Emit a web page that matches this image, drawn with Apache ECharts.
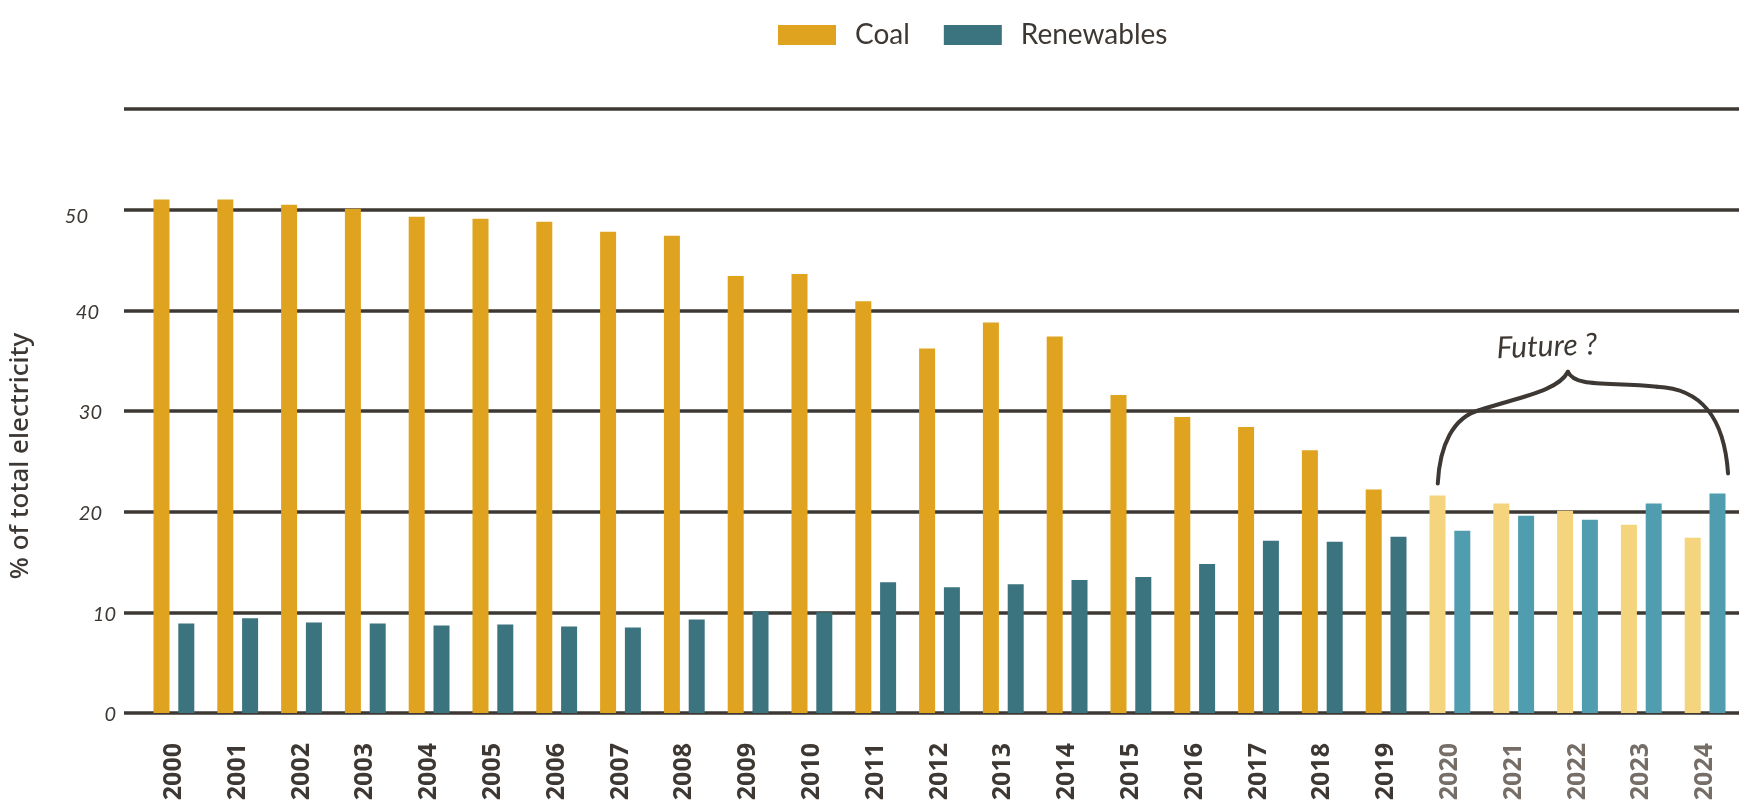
<!DOCTYPE html>
<html>
<head>
<meta charset="utf-8">
<script src="https://cdn.jsdelivr.net/npm/echarts@6/dist/echarts.min.js"></script>
<style>
html,body{margin:0;padding:0;background:#fff;}
#chart{width:1739px;height:807px;}
</style>
</head>
<body>
<div id="chart"></div>
<script>
const years = ['2000','2001','2002','2003','2004','2005','2006','2007','2008','2009','2010','2011','2012','2013','2014','2015','2016','2017','2018','2019','2020','2021','2022','2023','2024'];
const coal = [51.0, 51.0, 50.5, 50.1, 49.3, 49.1, 48.8, 47.8, 47.4, 43.4, 43.6, 40.9, 36.2, 38.8, 37.4, 31.6, 29.4, 28.4, 26.1, 22.2, 21.6, 20.8, 20.1, 18.7, 17.4];
const renewables = [8.9, 9.4, 9.0, 8.9, 8.7, 8.8, 8.6, 8.5, 9.3, 10.1, 10.0, 13.0, 12.5, 12.8, 13.2, 13.5, 14.8, 17.1, 17.0, 17.5, 18.1, 19.6, 19.2, 20.8, 21.8];
const yTicks = [0, 10, 20, 30, 40, 50, 60];
const futureYears = ['2020','2021','2022','2023','2024'];
const annotationText = 'Future ?';

const COL = {
  coal: '#e0a31f', coalFuture: '#f4d57e',
  ren: '#3b737e', renFuture: '#4f9daf',
  ink: '#3d3833', inkLight: '#766d67'
};

const isFuture = y => futureYears.indexOf(y) >= 0;

const chart = echarts.init(document.getElementById('chart'), null, {renderer: 'canvas'});

const yPad = {0: 0, 10: 0, 20: 14, 30: 14, 40: 17, 50: 28, 60: 0};
const yRich = {};
yTicks.forEach(v => {
  yRich['t' + v] = {
    fontFamily: 'Lato', fontStyle: 'italic', fontSize: 20, color: COL.ink,
    padding: [v === 50 ? 14 : 4, yPad[v], 0, 0]
  };
});

const option = {
  backgroundColor: '#ffffff',
  animation: false,
  legend: {
    data: ['Coal', 'Renewables'],
    top: 16,
    left: 773,
    itemWidth: 58,
    itemHeight: 20,
    itemGap: 34,
    icon: 'rect',
    textStyle: {
      fontFamily: 'Lato', fontSize: 28, color: COL.ink,
      padding: [0, 0, 0, 14]
    }
  },
  grid: [
    {left: 114, right: 0, top: 109, bottom: 94},
    {left: 142, right: 2, top: 109, bottom: 94}
  ],
  xAxis: [
    {type: 'value', gridIndex: 0, show: false, min: 0, max: 1},
    {
      type: 'category', gridIndex: 1, data: years,
      axisLine: {show: false}, axisTick: {show: false},
      axisLabel: {
        rotate: 90, margin: 30, interval: 0,
        fontFamily: 'Noto Sans', fontWeight: 'bold', fontSize: 25,
        formatter: v => isFuture(v) ? '{f|' + v + '}' : '{p|' + v + '}',
        rich: {
          p: {fontFamily: 'Noto Sans', fontWeight: 'bold', fontSize: 25, color: COL.ink},
          f: {fontFamily: 'Noto Sans', fontWeight: 'bold', fontSize: 25, color: COL.inkLight}
        }
      },
      splitLine: {show: false}
    }
  ],
  yAxis: [
    {
      type: 'value', gridIndex: 0, min: 0, max: 60, interval: 10,
      name: '% of total electricity', nameLocation: 'middle', nameRotate: 90, nameGap: 90,
      nameTextStyle: {fontFamily: 'Noto Sans', fontSize: 26, fontWeight: 500, color: COL.ink, padding: [0, 90, 0, 0]},
      axisLine: {show: false}, axisTick: {show: false},
      axisLabel: {
        margin: 8,
        formatter: v => v === 60 ? '' : '{t' + v + '|' + v + '}',
        rich: yRich
      },
      splitLine: {show: true, lineStyle: {color: COL.ink, width: 3.5}}
    },
    {type: 'value', gridIndex: 1, min: 0, max: 60, interval: 10, show: false, splitLine: {show: false}}
  ],
  series: [
    {
      name: 'Coal', type: 'bar', xAxisIndex: 1, yAxisIndex: 1,
      barWidth: 16, barGap: '55%',
      itemStyle: {color: COL.coal},
      data: coal.map((v, i) => ({value: v, itemStyle: {color: isFuture(years[i]) ? COL.coalFuture : COL.coal}}))
    },
    {
      name: 'Renewables', type: 'bar', xAxisIndex: 1, yAxisIndex: 1,
      barWidth: 16, barGap: '55%',
      itemStyle: {color: COL.ren},
      data: renewables.map((v, i) => ({value: v, itemStyle: {color: isFuture(years[i]) ? COL.renFuture : COL.ren}}))
    }
  ]
};

chart.setOption(option);

// Annotation brace over the future years, placed through the chart's own scales
// P(i, v): pixel of fractional category position i and value v
const c0 = chart.convertToPixel({xAxisIndex: 1, yAxisIndex: 1}, [0, 0]);
const c1 = chart.convertToPixel({xAxisIndex: 1, yAxisIndex: 1}, [1, 0]);
const band = c1[0] - c0[0];
const P = (i, v) => {
  const p = chart.convertToPixel({xAxisIndex: 1, yAxisIndex: 1}, [0, v]);
  return [c0[0] + i * band, p[1]];
};
const braceSegments = [
  [[19.81, 22.8], [19.84, 26.6], [20.05, 29.4], [20.47, 30.1]],
  [[20.47, 30.1], [21.1, 31.4], [21.7, 32.0], [21.85, 33.9]],
  [[21.85, 33.9], [21.96, 32.3], [22.5, 32.9], [23.25, 32.4]],
  [[23.25, 32.4], [23.95, 32.2], [24.3, 29.3], [24.36, 23.8]]
];
const braceStyle = {stroke: COL.ink, lineWidth: 4, lineCap: 'round', fill: null};
const graphics = braceSegments.map(s => {
  const a = P(s[0][0], s[0][1]), b = P(s[1][0], s[1][1]), c = P(s[2][0], s[2][1]), d = P(s[3][0], s[3][1]);
  return {
    type: 'bezierCurve', z: 10, silent: true,
    shape: {x1: a[0], y1: a[1], cpx1: b[0], cpy1: b[1], cpx2: c[0], cpy2: c[1], x2: d[0], y2: d[1]},
    style: braceStyle
  };
});
const tp = P(21.52, 36.4);
graphics.push({
  type: 'text', z: 10, silent: true,
  x: tp[0], y: tp[1], rotation: 0.04,
  style: {
    text: annotationText, fill: COL.ink,
    font: 'italic 30px Lato', textAlign: 'center', textVerticalAlign: 'middle'
  }
});

chart.setOption({graphic: graphics});
</script>
</body>
</html>
